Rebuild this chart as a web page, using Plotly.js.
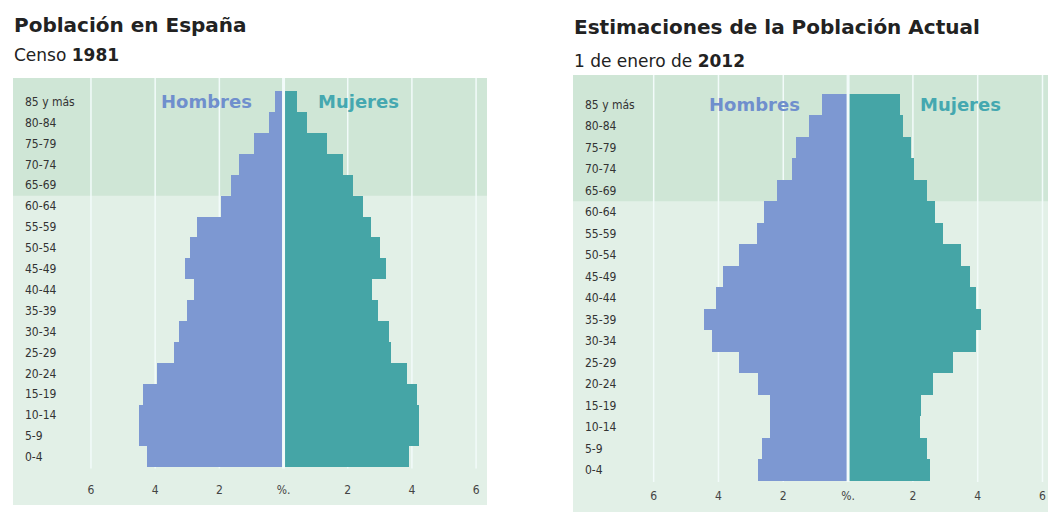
<!DOCTYPE html>
<html lang="es">
<head>
    <meta charset="UTF-8">
    <title>Pirámides de población</title>
    <script src="https://cdn.plot.ly/plotly-3.0.1.min.js"></script>
    <style>
        body { margin: 0; background: white; }
        #plot { width: 1048px; height: 512px; }
    </style>
</head>
<body>
    <div id="plot"></div>
    <script>
        // grupos de edad, de abajo hacia arriba
        const ages = ['0-4', '5-9', '10-14', '15-19', '20-24', '25-29', '30-34', '35-39', '40-44',
                      '45-49', '50-54', '55-59', '60-64', '65-69', '70-74', '75-79', '80-84', '85 y más'];

        // % de la población, censo 1981
        const men1981   = [4.25, 4.5, 4.5, 4.38, 3.94, 3.41, 3.26, 3.0, 2.79, 3.07, 2.91, 2.69, 1.95, 1.64, 1.39, 0.92, 0.45, 0.26];
        const women1981 = [3.91, 4.22, 4.22, 4.16, 3.85, 3.35, 3.29, 2.94, 2.76, 3.19, 3.0, 2.73, 2.48, 2.17, 1.85, 1.36, 0.73, 0.42];

        // % de la población, 1 de enero de 2012
        const men2012   = [2.78, 2.65, 2.41, 2.41, 2.78, 3.36, 4.2, 4.44, 4.07, 3.86, 3.36, 2.81, 2.59, 2.19, 1.73, 1.6, 1.2, 0.8];
        const women2012 = [2.53, 2.44, 2.22, 2.25, 2.62, 3.24, 3.95, 4.1, 3.95, 3.77, 3.49, 2.93, 2.69, 2.44, 2.04, 1.94, 1.7, 1.6];

        const tickVals = [-6, -4, -2, 0, 2, 4, 6];
        const tickText = ['6', '4', '2', '%.', '2', '4', '6'];
        const gridVals = [-6, -4, -2, 2, 4, 6];

        const menColor = '#7d98d2';
        const womenColor = '#45a5a6';
        const darkBand = '#cfe6d6';
        const lightBg = '#e2f0e7';
        const lineColor = '#f2fbfa';

        const W = 1048, H = 512;

        function barTraces(men, women, xa, ya) {
            return [
                {
                    type: 'bar', orientation: 'h',
                    y: ages, x: men.map(v => -v),
                    customdata: men,
                    hovertemplate: 'Hombres %{y}: %{customdata}%<extra></extra>',
                    marker: { color: menColor },
                    xaxis: xa, yaxis: ya
                },
                {
                    type: 'bar', orientation: 'h',
                    y: ages, x: women,
                    hovertemplate: 'Mujeres %{y}: %{x}%<extra></extra>',
                    marker: { color: womenColor },
                    xaxis: xa, yaxis: ya
                }
            ];
        }

        function xAxis(range, domain, standoff) {
            return {
                domain: domain, range: range,
                showgrid: false, zeroline: false, showline: false,
                tickvals: tickVals, ticktext: tickText,
                ticks: '', ticklabelposition: 'inside', ticklabelstandoff: standoff,
                tickfont: { family: 'DejaVu Sans Condensed, Liberation Sans Narrow, sans-serif', size: 12, color: '#444' },
                fixedrange: true
            };
        }

        function yAxis(range, domain, anchor) {
            return {
                domain: domain, range: range, anchor: anchor,
                type: 'category', categoryarray: ages,
                showgrid: false, zeroline: false, showline: false,
                ticks: '', ticklabelposition: 'inside', ticklabelstandoff: 9,
                tickfont: { family: 'DejaVu Sans Condensed, Liberation Sans Narrow, sans-serif', size: 12, color: '#333' },
                fixedrange: true
            };
        }

        // escalas de cada panel
        const x1Range = [-8.43, 6.34], y1Range = [-2.3, 18.13];
        const x2Range = [-8.49, 6.17], y2Range = [-1.95, 18.37];

        function panelShapes(xr, yr, yRange) {
            const s = [];
            s.push({ type: 'rect', xref: xr + ' domain', yref: yr, x0: 0, x1: 1, y0: 12.5, y1: yRange[1],
                     fillcolor: darkBand, line: { width: 0 }, layer: 'below' });
            gridVals.forEach(v => s.push({
                type: 'line', xref: xr, yref: yr, x0: v, x1: v, y0: -0.55, y1: yRange[1],
                line: { color: lineColor, width: 1.5 }, layer: 'below'
            }));
            s.push({ type: 'line', xref: xr, yref: yr, x0: 0, x1: 0, y0: -0.55, y1: yRange[1],
                     line: { color: lineColor, width: 3 }, layer: 'above' });
            return s;
        }

        function label(text, xr, yr, x, color) {
            return { text: '<b>' + text + '</b>', xref: xr, yref: yr, x: x, y: ages[17],
                     showarrow: false, font: { family: 'DejaVu Sans, sans-serif', size: 18, color: color } };
        }

        function pageText(text, px, py, size) {
            return { text: text, xref: 'paper', yref: 'paper', x: px / W, y: 1 - py / H,
                     xanchor: 'left', yanchor: 'middle', showarrow: false,
                     font: { family: 'DejaVu Sans, sans-serif', size: size, color: '#222' } };
        }

        const traces = [
            ...barTraces(men1981, women1981, 'x', 'y'),
            ...barTraces(men2012, women2012, 'x2', 'y2')
        ];

        const layout = {
            width: W, height: H,
            margin: { l: 0, r: 0, t: 0, b: 0 },
            paper_bgcolor: 'white',
            plot_bgcolor: lightBg,
            showlegend: false,
            barmode: 'relative',
            bargap: 0,
            xaxis: xAxis(x1Range, [13 / W, 487 / W], 6),
            yaxis: yAxis(y1Range, [7 / H, 434 / H], 'x'),
            xaxis2: xAxis(x2Range, [573 / W, 1], 0),
            yaxis2: yAxis(y2Range, [0, 437 / H], 'x2'),
            shapes: [...panelShapes('x', 'y', y1Range), ...panelShapes('x2', 'y2', y2Range)],
            annotations: [
                label('Hombres', 'x', 'y', -2.41, '#6f8fcd'),
                label('Mujeres', 'x', 'y', 2.33, '#45a8b0'),
                label('Hombres', 'x2', 'y2', -2.9, '#6f8fcd'),
                label('Mujeres', 'x2', 'y2', 3.46, '#45a8b0'),
                pageText('<b>Población en España</b>', 12, 25, 20),
                pageText('Censo <b>1981</b>', 12, 55, 17),
                pageText('<b>Estimaciones de la Población Actual</b>', 572, 27, 20),
                pageText('1 de enero de <b>2012</b>', 572, 61, 17)
            ]
        };

        Plotly.newPlot('plot', traces, layout, { displayModeBar: false, staticPlot: true });
    </script>
</body>
</html>
